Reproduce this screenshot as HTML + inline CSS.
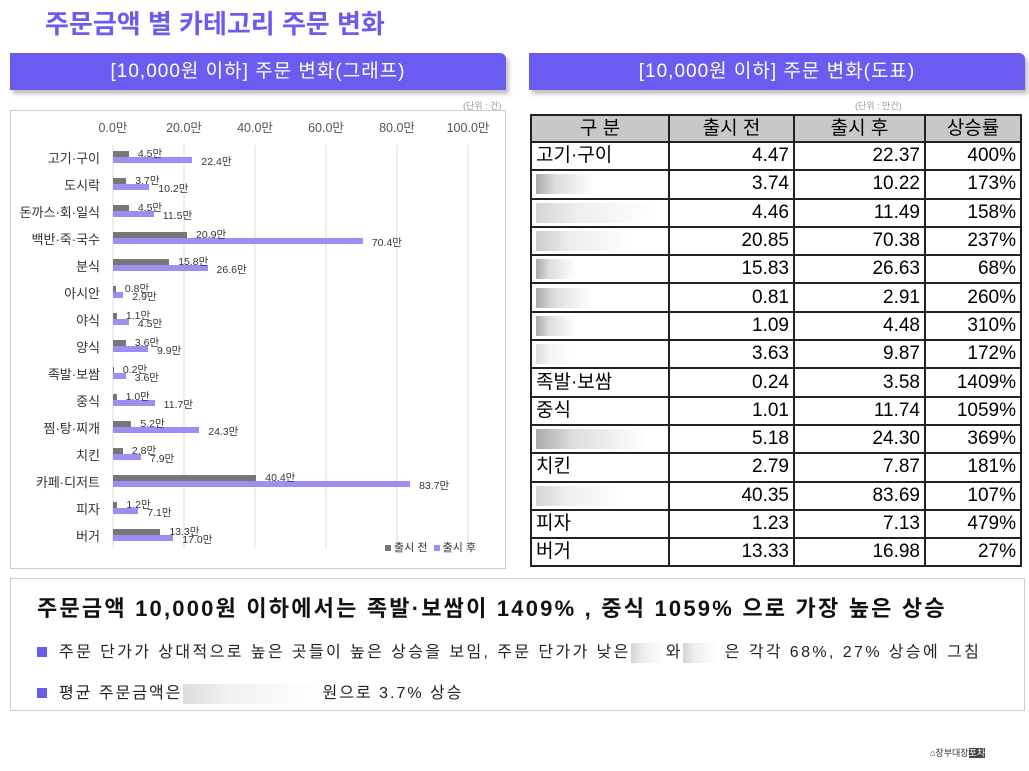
<!DOCTYPE html>
<html><head><meta charset="utf-8"><style>
body{margin:0;width:1029px;height:771px;background:#fff;position:relative;font-family:"Liberation Sans","Noto Sans CJK KR",sans-serif;overflow:hidden}
.a{position:absolute}
.bar{position:absolute;background:#6a5cf0;color:#fff;font-size:19px;letter-spacing:1px;text-align:center;line-height:37px;border-radius:0 6px 0 0;box-shadow:3px 4px 4px rgba(0,0,0,.25)}
table{border-collapse:collapse;position:absolute;left:530px;top:114px;width:492px;font-size:19px}
td{border:2px solid #222;height:26.3px;padding:0 4px;text-align:right;line-height:24px}
td:first-child{text-align:left}
tr.h td{background:#c8c8c8;text-align:center;height:25px}
.bl{display:inline-block;height:20px;vertical-align:middle;background:linear-gradient(90deg,#aaa,#ddd,#eee,#fff)}
.lbl{position:absolute;font-size:13px;color:#333;text-align:right;width:92px;left:8px}
.v{position:absolute;font-size:10.5px;color:#333}
</style></head><body>
<div class="a" style="left:45px;top:4px;font-size:26px;font-weight:bold;color:#6a5cf0">주문금액 별 카테고리 주문 변화</div>
<div class="bar" style="left:10px;top:53px;width:496px;height:37px">[10,000원 이하] 주문 변화(그래프)</div>
<div class="bar" style="left:529px;top:53px;width:496px;height:37px">[10,000원 이하] 주문 변화(도표)</div>
<div class="a" style="left:463px;top:99px;font-size:9px;color:#999">(단위 : 건)</div>
<div class="a" style="left:855px;top:99px;font-size:9px;color:#999">(단위 : 만건)</div>
<div class="a" style="left:10px;top:110px;width:494px;height:457px;border:1px solid #ccc"></div>
<svg class="a" style="left:0;top:0" width="520" height="570">
<g stroke="#ddd" stroke-width="1">
<line x1="113" y1="145" x2="113" y2="548"/><line x1="184" y1="145" x2="184" y2="548"/><line x1="255" y1="145" x2="255" y2="548"/><line x1="326" y1="145" x2="326" y2="548"/><line x1="397" y1="145" x2="397" y2="548"/><line x1="468" y1="145" x2="468" y2="548"/></g>
<g font-size="12.5" fill="#555" text-anchor="middle" font-family="Liberation Sans,Noto Sans CJK KR,sans-serif">
<text x="113" y="132">0.0만</text><text x="184" y="132">20.0만</text><text x="255" y="132">40.0만</text><text x="326" y="132">60.0만</text><text x="397" y="132">80.0만</text><text x="468" y="132">100.0만</text></g>
</svg>
<div id="c"></div>
<div class="a" style="left:385px;top:539px;font-size:11px;color:#333"><span style="display:inline-block;width:6px;height:6px;background:#777"></span> 출시 전 &nbsp;<span style="display:inline-block;width:6px;height:6px;background:#9a8ff3"></span> 출시 후</div>
<script>
var d=[["고기·구이",4.47,22.37],["도시락",3.74,10.22],["돈까스·회·일식",4.46,11.49],["백반·죽·국수",20.85,70.38],["분식",15.83,26.63],["아시안",0.81,2.91],["야식",1.09,4.48],["양식",3.63,9.87],["족발·보쌈",0.24,3.58],["중식",1.01,11.74],["찜·탕·찌개",5.18,24.30],["치킨",2.79,7.87],["카페·디저트",40.35,83.69],["피자",1.23,7.13],["버거",13.33,16.98]];
var h="";d.forEach(function(r,i){var y=157+i*27,k=3.55;
h+='<div class="lbl" style="top:'+(y-9)+'px">'+r[0]+'</div>';
h+='<div class="a" style="left:113px;top:'+(y-6)+'px;width:'+r[1]*k+'px;height:6px;background:#777"></div>';
h+='<div class="a" style="left:113px;top:'+y+'px;width:'+r[2]*k+'px;height:6px;background:#9a8ff3"></div>';
h+='<div class="v" style="left:'+(113+r[1]*k+9)+'px;top:'+(y-11)+'px">'+r[1].toFixed(1)+'만</div>';
h+='<div class="v" style="left:'+(113+r[2]*k+9)+'px;top:'+(y-3)+'px">'+r[2].toFixed(1)+'만</div>';});
document.getElementById("c").innerHTML=h;
</script>
<table>
<tr class="h"><td style="width:128px">구 분</td><td style="width:115px">출시 전</td><td style="width:121px">출시 후</td><td>상승률</td></tr>
<tr><td>고기·구이</td><td>4.47</td><td>22.37</td><td>400%</td></tr>
<tr><td><span class="bl" style="width:58px"></span></td><td>3.74</td><td>10.22</td><td>173%</td></tr>
<tr><td><span class="bl" style="width:120px;opacity:.5"></span></td><td>4.46</td><td>11.49</td><td>158%</td></tr>
<tr><td><span class="bl" style="width:95px;opacity:.6"></span></td><td>20.85</td><td>70.38</td><td>237%</td></tr>
<tr><td><span class="bl" style="width:40px"></span></td><td>15.83</td><td>26.63</td><td>68%</td></tr>
<tr><td><span class="bl" style="width:55px"></span></td><td>0.81</td><td>2.91</td><td>260%</td></tr>
<tr><td><span class="bl" style="width:40px"></span></td><td>1.09</td><td>4.48</td><td>310%</td></tr>
<tr><td><span class="bl" style="width:35px;opacity:.4"></span></td><td>3.63</td><td>9.87</td><td>172%</td></tr>
<tr><td>족발·보쌈</td><td>0.24</td><td>3.58</td><td>1409%</td></tr>
<tr><td>중식</td><td>1.01</td><td>11.74</td><td>1059%</td></tr>
<tr><td><span class="bl" style="width:110px"></span></td><td>5.18</td><td>24.30</td><td>369%</td></tr>
<tr><td>치킨</td><td>2.79</td><td>7.87</td><td>181%</td></tr>
<tr><td><span class="bl" style="width:90px;opacity:.5"></span></td><td>40.35</td><td>83.69</td><td>107%</td></tr>
<tr><td>피자</td><td>1.23</td><td>7.13</td><td>479%</td></tr>
<tr><td>버거</td><td>13.33</td><td>16.98</td><td>27%</td></tr>
</table>
<div class="a" style="left:10px;top:578px;width:1013px;height:131px;border:1px solid #ccc"></div>
<div class="a" style="left:37px;top:591px;font-size:22px;letter-spacing:2.2px;font-weight:bold;color:#111;white-space:nowrap">주문금액 10,000원 이하에서는 족발·보쌈이 1409% , 중식 1059% 으로 가장 높은 상승</div>
<div class="a" style="left:37px;top:638px;font-size:16px;letter-spacing:2.4px;color:#222;white-space:nowrap"><span style="display:inline-block;width:10px;height:10px;background:#6a5cf0;margin-right:12px"></span>주문 단가가 상대적으로 높은 곳들이 높은 상승을 보임, 주문 단가가 낮은<span class="bl" style="width:35px;opacity:.5"></span>와<span class="bl" style="width:35px;opacity:.5"></span> 은 각각 68%, 27% 상승에 그침</div>
<div class="a" style="left:37px;top:679px;font-size:16px;letter-spacing:2px;color:#222;white-space:nowrap"><span style="display:inline-block;width:10px;height:10px;background:#6a5cf0;margin-right:12px"></span>평균 주문금액은<span class="bl" style="width:140px;opacity:.4"></span>원으로 3.7% 상승</div>
<div class="a" style="left:930px;top:746px;font-size:9px;color:#333">⌂장부대장<span style="background:#444;color:#fff">포차</span></div>
</body></html>
